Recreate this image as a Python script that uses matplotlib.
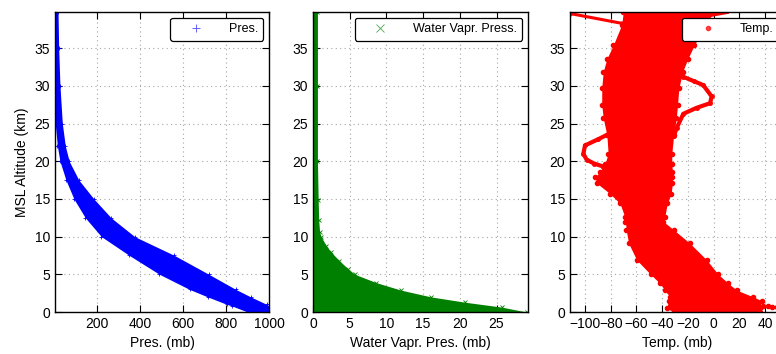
import numpy as np
import matplotlib
matplotlib.use("Agg")
import matplotlib.pyplot as plt

# --- sounding envelopes (altitude in km) ---
pres_alt = [0, 0.8, 1, 2, 3, 5, 7.5, 10, 12.5, 15, 17.5, 20, 22, 25, 30, 35, 39.8]
pres_lo = [900, 828, 805, 715, 630, 490, 350, 220, 145, 92, 55, 27, 15, 5, 4, 4, 4]
pres_hi = [1000, 1000, 990, 915, 845, 720, 560, 375, 265, 185, 115, 70, 52, 38, 27, 21, 18]

wv_alt = [0, 0.65, 1.3, 2.0, 2.9, 3.9, 5.0, 5.7, 6.8, 7.9, 8.8, 10.0, 10.6, 12.2, 14.85, 20, 30, 39.8]
wv_max = [29.1, 25.7, 20.7, 16.1, 12.0, 8.6, 5.7, 4.8, 3.6, 2.5, 1.8, 1.1, 0.9, 0.77, 0.7, 0.6, 0.6, 0.6]

temp_alt = [0, 0.5, 1.5, 2.0, 2.9, 3.8, 5.0, 6.9, 9.1, 10.9, 12.0, 12.6, 14.4, 15.7,
            17.1, 17.9, 18.6, 19.7, 21.0, 23.5, 25.7, 27.5, 29.7, 31.9, 33.6, 35.4, 38.1, 39.8]
temp_lo = [-31, -36.5, -35, -34, -38, -41.7, -49, -59.8, -66, -68, -68.5, -69, -72.8, -80.6,
           -90.9, -92.2, -88.3, -84.4, -82, -83, -85.8, -87, -87, -85.8, -83, -78, -71.5, -70.2]
temp_hi = [36, 36, 37.4, 31, 18, 11.5, 3.6, -5.3, -18.3, -31, -39, -38, -36, -33,
           -32, -32, -32, -32.5, -32.5, -31, -29, -28, -27, -24, -20, -15, -6, 0]

# odd soundings sticking out of the main envelope
warm_loop_t = [-31, -28.7, -23.5, -13, -2.7, -1.5, -8, -15, -23.5]
warm_loop_z = [23.3, 24.4, 26.3, 27.1, 27.7, 28.6, 30.1, 30.6, 31.2]
cold_loop_t = [-83, -90, -100, -101.3, -98.7, -93, -85.8, -82]
cold_loop_z = [23.5, 22.9, 22.1, 21.0, 20.2, 19.7, 19.3, 19.0]
top_left_t = [-111.7, -71.5]
top_left_z = [39.6, 38.3]
top_right_t = [-2.8, 10.2]
top_right_z = [39.4, 39.8]
surf_t = [38.6, 42, 45.5, 49, 52.5, 55]
surf_z = [0.8, 0.8, 0.7, 0.7, 0.6, 0.5]

plt.rcParams['font.family'] = ['Liberation Sans', 'DejaVu Sans']
plt.rcParams['font.size'] = 10
plt.rcParams['xtick.direction'] = 'in'
plt.rcParams['ytick.direction'] = 'in'
plt.rcParams['xtick.top'] = True
plt.rcParams['ytick.right'] = True
plt.rcParams['xtick.major.size'] = 5
plt.rcParams['ytick.major.size'] = 5

fig = plt.figure(figsize=(7.76, 3.54), dpi=100)
w, h, b = 0.2771, 0.8475, 0.1186
ax1 = fig.add_axes([0.0709, b, 0.2758, h])
ax2 = fig.add_axes([0.4034, b, w, h])
ax3 = fig.add_axes([0.7345, b, w, h])


def style(ax):
    ax.set_ylim(0, 39.8)
    ax.set_yticks(range(0, 40, 5))
    ax.set_axisbelow(True)
    ax.grid(True, ls=(0, (1, 3)), color='0.65', lw=0.8)
    for s in ax.spines.values():
        s.set_linewidth(1.0)
    leg = ax.legend(loc='upper right', numpoints=1, fontsize=9, fancybox=True,
                    handlelength=3.2, handletextpad=1.0, borderpad=0.45,
                    borderaxespad=0.45, framealpha=1)
    leg.get_frame().set_edgecolor('k')
    leg.get_frame().set_linewidth(0.9)
    for hnd in leg.legend_handles:
        hnd.set_markersize(6)
        hnd.set_alpha(0.7)


# pressure
ax1.fill_betweenx(pres_alt, pres_lo, pres_hi, color='b', lw=0)
ax1.plot(pres_lo, pres_alt, 'b+', ms=3, mew=0.6, label='Pres.')
ax1.plot(pres_hi, pres_alt, 'b+', ms=3, mew=0.6)
ax1.set_xlim(4, 1000)
ax1.set_xticks([200, 400, 600, 800, 1000])
ax1.set_xlabel('Pres. (mb)')
ax1.set_ylabel('MSL Altitude (km)')
style(ax1)

# water vapour
ax2.fill_betweenx(wv_alt, 0, wv_max, color='g', lw=0)
ax2.plot(wv_max, wv_alt, 'gx', ms=3, mew=0.6, label='Water Vapr. Press.')
ax2.set_xlim(0, 29.3)
ax2.set_xticks(range(0, 30, 5))
ax2.set_xlabel('Water Vapr. Pres. (mb)')
style(ax2)

# temperature
ax3.fill_betweenx(temp_alt, temp_lo, temp_hi, color='r', lw=0)
ax3.plot(temp_lo, temp_alt, 'r.', ms=6, label='Temp.')
ax3.plot(temp_hi, temp_alt, 'r.', ms=6)
ax3.plot(warm_loop_t, warm_loop_z, 'r.-', ms=5, lw=3)
ax3.plot(cold_loop_t, cold_loop_z, 'r.-', ms=5, lw=3)
ax3.plot(top_left_t, top_left_z, 'r.-', ms=4, lw=2.2)
ax3.plot(top_right_t, top_right_z, 'r-', lw=3)
ax3.plot(surf_t, surf_z, 'r.', ms=6)
ax3.set_xlim(-111.7, 55.6)
ax3.set_xticks(range(-100, 60, 20))
ax3.set_xlabel('Temp. (mb)')
style(ax3)

fig.savefig('out.png', dpi=100)
